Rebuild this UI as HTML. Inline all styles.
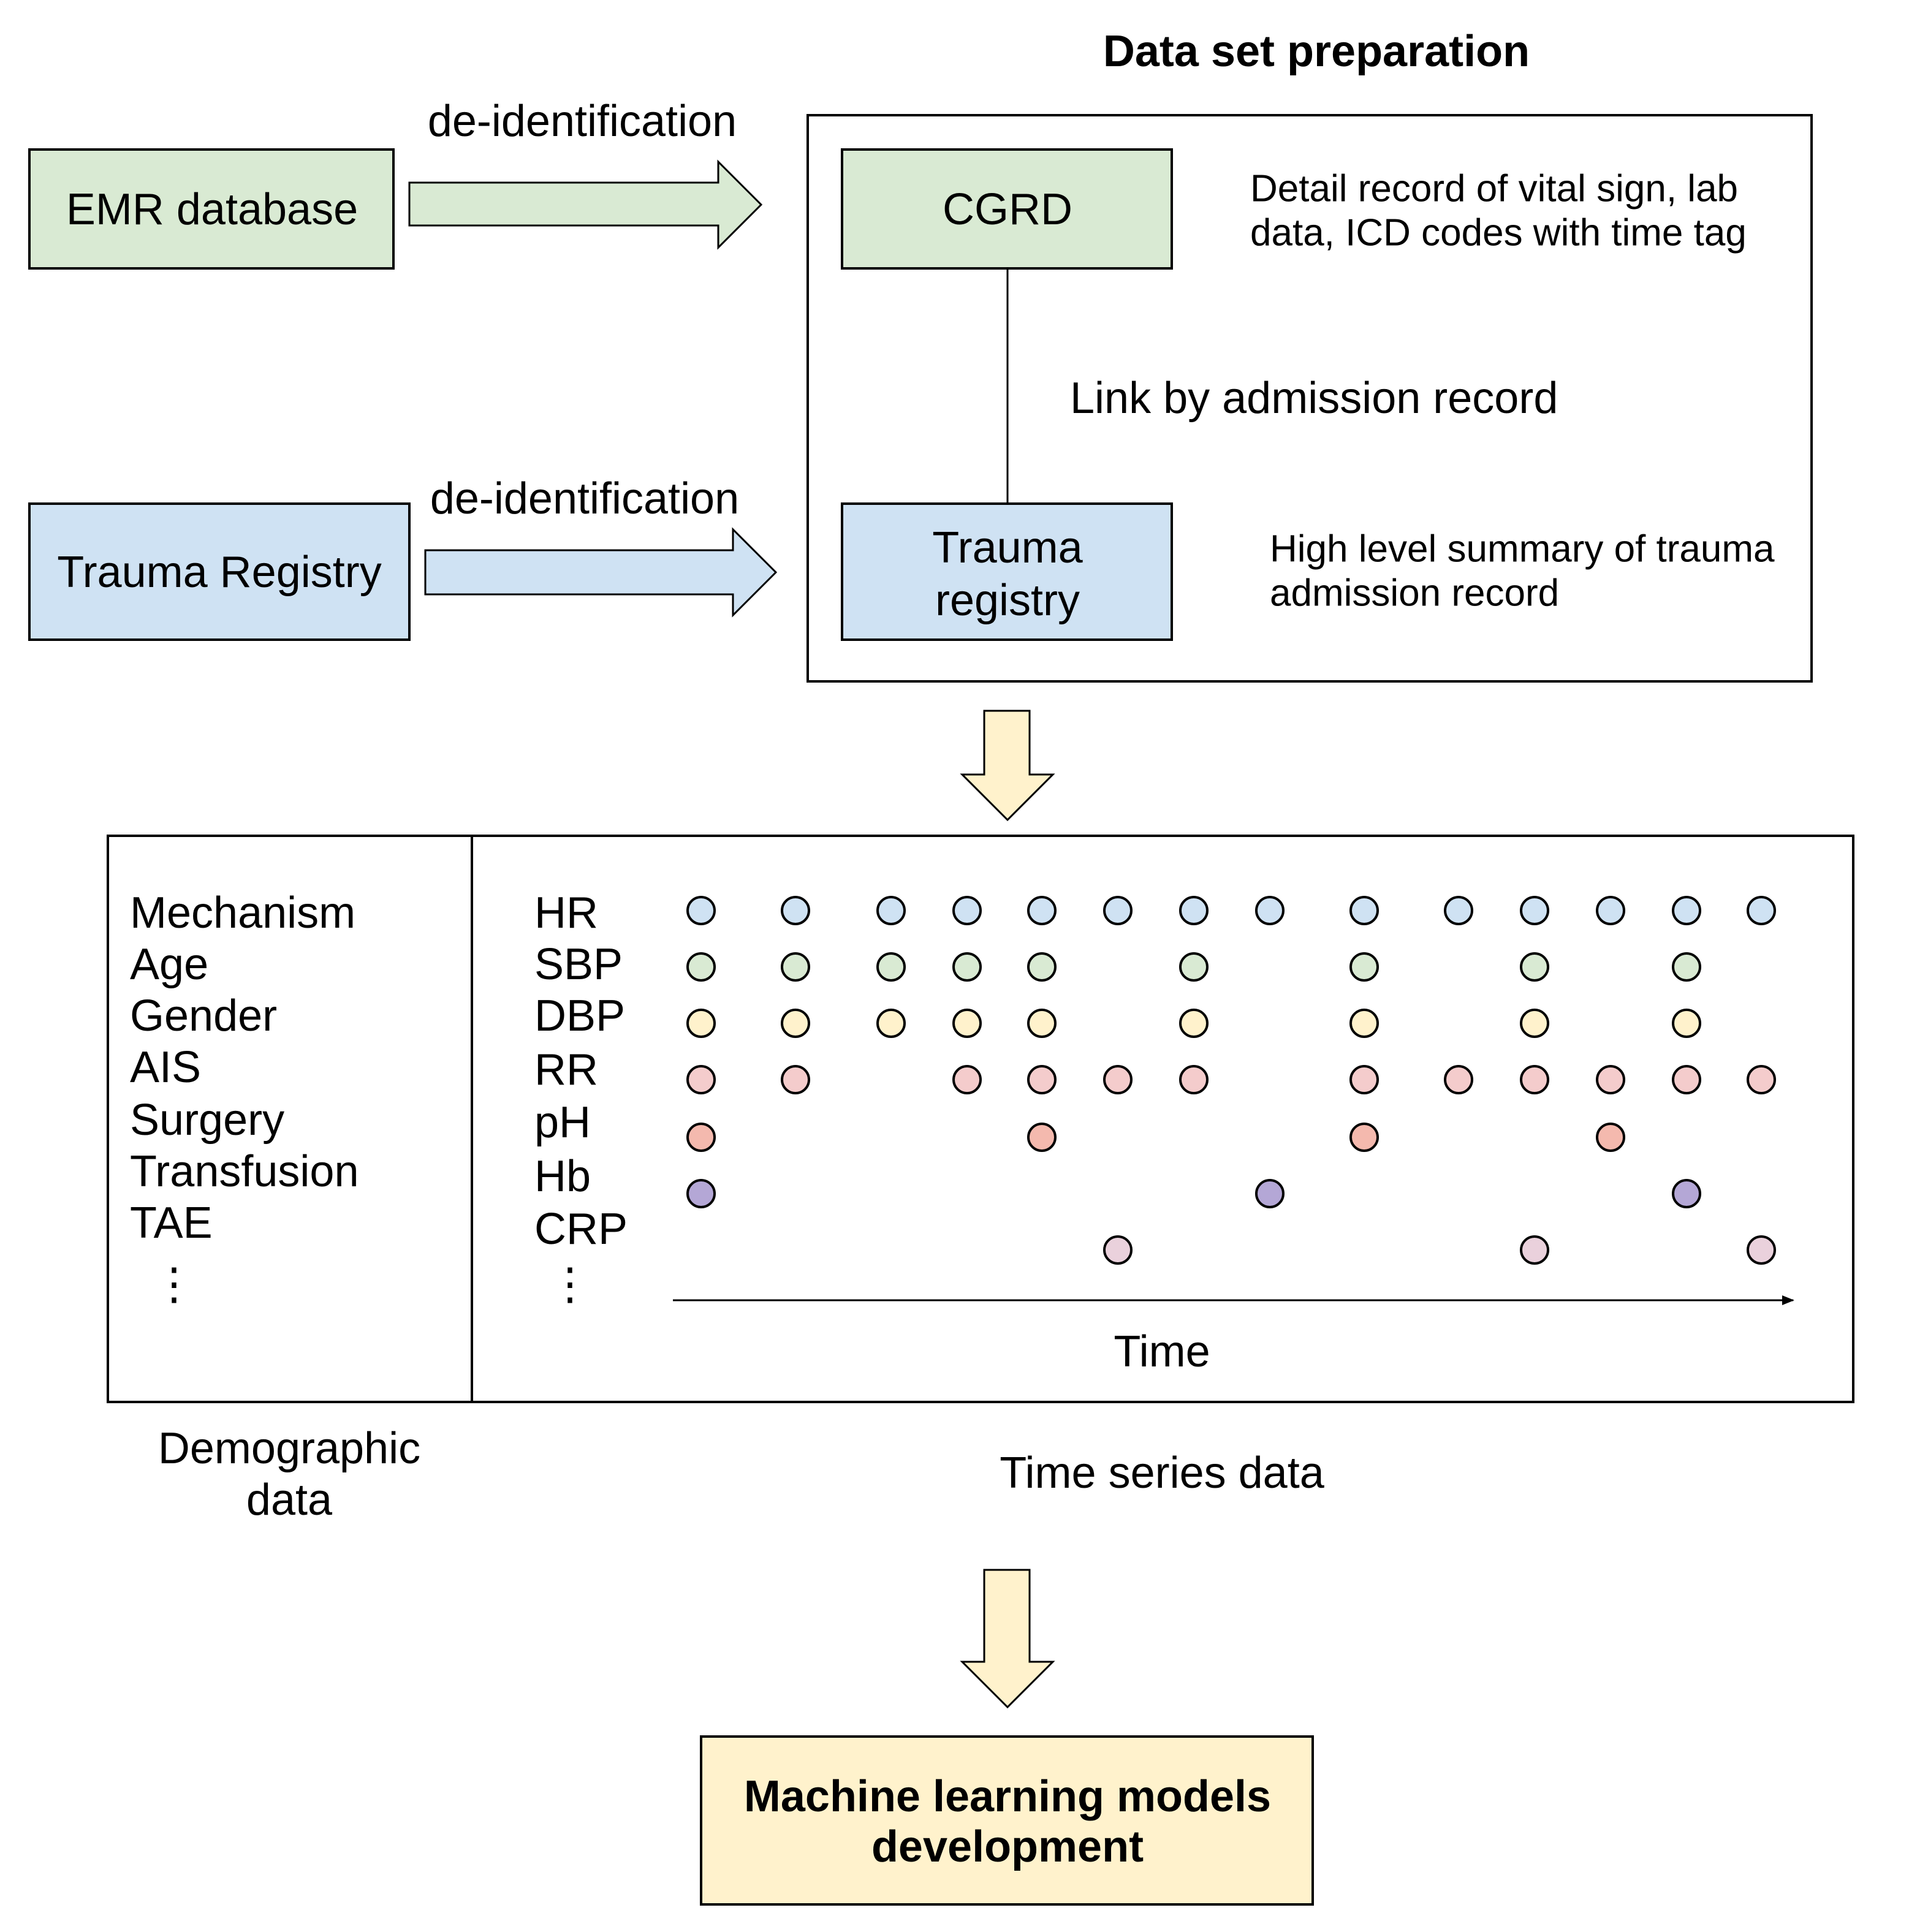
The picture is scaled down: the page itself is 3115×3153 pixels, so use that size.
<!DOCTYPE html>
<html><head><meta charset="utf-8"><style>
html,body{margin:0;padding:0;background:#fff;}
svg{display:block;}
text{font-family:"Liberation Sans",Arial,sans-serif;fill:#000;dominant-baseline:central;}
</style></head><body>
<svg width="3115" height="3153" viewBox="0 0 1557.5 1576.5" xmlns="http://www.w3.org/2000/svg">
<defs><marker id="ah" markerWidth="10" markerHeight="8" refX="9" refY="4" orient="auto" markerUnits="userSpaceOnUse"><path d="M0,0 L10,4 L0,8 Z" fill="#000"/></marker></defs>
<g stroke="#000" stroke-width="2">
<text x="1074" y="42" font-size="36" font-weight="bold" text-anchor="middle" stroke="none">Data set preparation</text>
<rect x="24" y="122" width="297" height="97" fill="#d9ead3"/>
<text x="173" y="171" font-size="36" text-anchor="middle" stroke="none">EMR database</text>
<path d="M334,149 L586,149 L586,132 L621,167 L586,202 L586,184 L334,184 Z" fill="#d9ead3" stroke-width="1.5"/>
<text x="475" y="99" font-size="36" text-anchor="middle" stroke="none">de-identification</text>
<rect x="659" y="94" width="819" height="462" fill="none"/>
<rect x="687" y="122" width="269" height="97" fill="#d9ead3"/>
<text x="822" y="171" font-size="36" text-anchor="middle" stroke="none">CGRD</text>
<line x1="822" y1="219" x2="822" y2="411" stroke-width="1.5"/>
<text x="1020" y="154" font-size="31" stroke="none">Detail record of vital sign, lab</text>
<text x="1020" y="190" font-size="31" stroke="none">data, ICD codes with time tag</text>
<text x="873" y="325" font-size="36" stroke="none">Link by admission record</text>
<rect x="24" y="411" width="310" height="111" fill="#cfe2f3"/>
<text x="179" y="467" font-size="36" text-anchor="middle" stroke="none">Trauma Registry</text>
<path d="M347,449 L598,449 L598,432 L633,467 L598,502 L598,485 L347,485 Z" fill="#cfe2f3" stroke-width="1.5"/>
<text x="477" y="407" font-size="36" text-anchor="middle" stroke="none">de-identification</text>
<rect x="687" y="411" width="269" height="111" fill="#cfe2f3"/>
<text x="822" y="447" font-size="36" text-anchor="middle" stroke="none">Trauma</text>
<text x="822" y="490" font-size="36" text-anchor="middle" stroke="none">registry</text>
<text x="1036" y="448" font-size="31" stroke="none">High level summary of trauma</text>
<text x="1036" y="484" font-size="31" stroke="none">admission record</text>
<path d="M803,580 L840,580 L840,632 L859,632 L822,669 L785,632 L803,632 Z" fill="#fff2cc" stroke-width="1.5"/>
<rect x="88" y="682" width="297" height="462" fill="none"/>
<rect x="385" y="682" width="1127" height="462" fill="none"/>
<g font-size="36" stroke="none">
<text x="106" y="745">Mechanism</text><text x="106" y="787">Age</text><text x="106" y="829">Gender</text><text x="106" y="871">AIS</text><text x="106" y="914">Surgery</text><text x="106" y="956">Transfusion</text><text x="106" y="998">TAE</text><text x="124" y="1048">⋮</text>
<text x="436" y="745">HR</text><text x="436" y="787">SBP</text><text x="436" y="829">DBP</text><text x="436" y="873">RR</text><text x="436" y="916">pH</text><text x="436" y="960">Hb</text><text x="436" y="1003">CRP</text><text x="447" y="1048">⋮</text>
</g>
<g stroke-width="2">
<g fill="#cfe2f3"><circle cx="572" cy="743" r="11"/><circle cx="649" cy="743" r="11"/><circle cx="727" cy="743" r="11"/><circle cx="789" cy="743" r="11"/><circle cx="850" cy="743" r="11"/><circle cx="912" cy="743" r="11"/><circle cx="974" cy="743" r="11"/><circle cx="1036" cy="743" r="11"/><circle cx="1113" cy="743" r="11"/><circle cx="1190" cy="743" r="11"/><circle cx="1252" cy="743" r="11"/><circle cx="1314" cy="743" r="11"/><circle cx="1376" cy="743" r="11"/><circle cx="1437" cy="743" r="11"/></g>
<g fill="#d9ead3"><circle cx="572" cy="789" r="11"/><circle cx="649" cy="789" r="11"/><circle cx="727" cy="789" r="11"/><circle cx="789" cy="789" r="11"/><circle cx="850" cy="789" r="11"/><circle cx="974" cy="789" r="11"/><circle cx="1113" cy="789" r="11"/><circle cx="1252" cy="789" r="11"/><circle cx="1376" cy="789" r="11"/></g>
<g fill="#fff2cc"><circle cx="572" cy="835" r="11"/><circle cx="649" cy="835" r="11"/><circle cx="727" cy="835" r="11"/><circle cx="789" cy="835" r="11"/><circle cx="850" cy="835" r="11"/><circle cx="974" cy="835" r="11"/><circle cx="1113" cy="835" r="11"/><circle cx="1252" cy="835" r="11"/><circle cx="1376" cy="835" r="11"/></g>
<g fill="#f4cccc"><circle cx="572" cy="881" r="11"/><circle cx="649" cy="881" r="11"/><circle cx="789" cy="881" r="11"/><circle cx="850" cy="881" r="11"/><circle cx="912" cy="881" r="11"/><circle cx="974" cy="881" r="11"/><circle cx="1113" cy="881" r="11"/><circle cx="1190" cy="881" r="11"/><circle cx="1252" cy="881" r="11"/><circle cx="1314" cy="881" r="11"/><circle cx="1376" cy="881" r="11"/><circle cx="1437" cy="881" r="11"/></g>
<g fill="#f4b9ae"><circle cx="572" cy="928" r="11"/><circle cx="850" cy="928" r="11"/><circle cx="1113" cy="928" r="11"/><circle cx="1314" cy="928" r="11"/></g>
<g fill="#b4a7d6"><circle cx="572" cy="974" r="11"/><circle cx="1036" cy="974" r="11"/><circle cx="1376" cy="974" r="11"/></g>
<g fill="#ead1dc"><circle cx="912" cy="1020" r="11"/><circle cx="1252" cy="1020" r="11"/><circle cx="1437" cy="1020" r="11"/></g>
</g>
<line x1="549" y1="1061" x2="1463" y2="1061" stroke-width="1.5" marker-end="url(#ah)"/>
<text x="948" y="1103" font-size="36" text-anchor="middle" stroke="none">Time</text>
<text x="236" y="1182" font-size="36" text-anchor="middle" stroke="none">Demographic</text>
<text x="236" y="1224" font-size="36" text-anchor="middle" stroke="none">data</text>
<text x="948" y="1202" font-size="36" text-anchor="middle" stroke="none">Time series data</text>
<path d="M803,1281 L840,1281 L840,1356 L859,1356 L822,1393 L785,1356 L803,1356 Z" fill="#fff2cc" stroke-width="1.5"/>
<rect x="572" y="1417" width="499" height="137" fill="#fff2cc"/>
<text x="822" y="1466" font-size="36" font-weight="bold" text-anchor="middle" stroke="none">Machine learning models</text>
<text x="822" y="1507" font-size="36" font-weight="bold" text-anchor="middle" stroke="none">development</text>
</g>
</svg>
</body></html>
